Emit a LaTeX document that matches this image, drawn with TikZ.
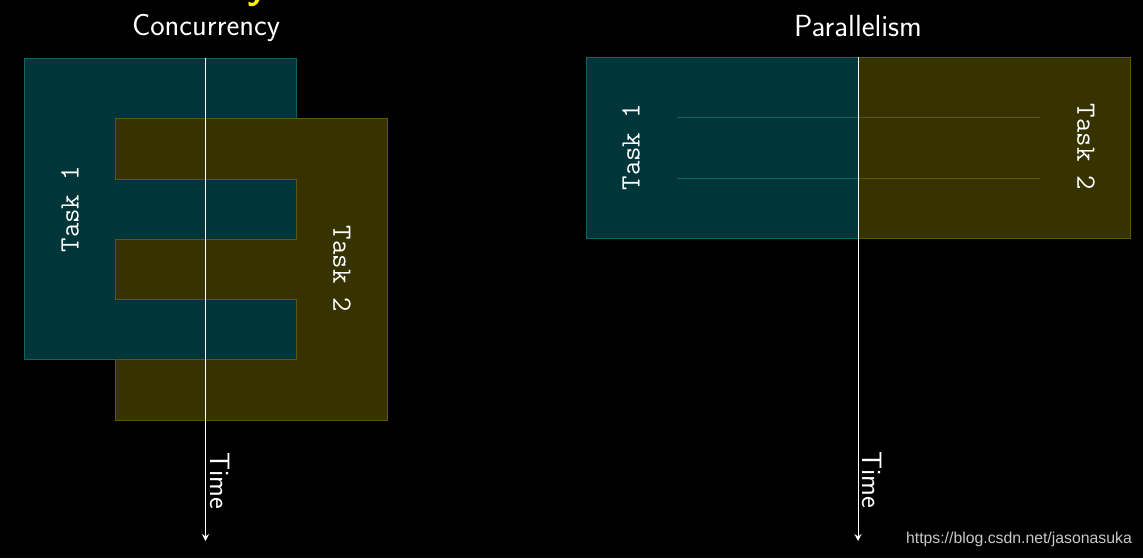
\documentclass[tikz,border=0pt]{standalone}
\usepackage{fontspec}
\newfontfamily\wmfont{Liberation Sans}
\usetikzlibrary{arrows.meta}
\definecolor{tealfill}{RGB}{0,53,57}
\definecolor{tealedge}{RGB}{12,100,100}
\definecolor{olivefill}{RGB}{54,51,0}
\definecolor{oliveedge}{RGB}{92,89,0}
\definecolor{wmgray}{RGB}{200,200,200}
\begin{document}
\begin{tikzpicture}[x=1pt,y=-1pt,
  tealshape/.style={fill=tealfill,draw=tealedge,line width=1pt},
  oliveshape/.style={fill=olivefill,draw=oliveedge,line width=1pt},
  tealline/.style={draw=tealedge,line width=1pt},
  oliveline/.style={draw=oliveedge,line width=1pt},
  timearrow/.style={draw=white,line width=1pt,-{Stealth[length=7pt,width=7pt,inset=2.5pt]}},
  title/.style={text=white,font=\sffamily\fontsize{30.5}{32}\selectfont,inner sep=0pt,anchor=base},
  tasklabel/.style={text=white,font=\ttfamily\fontsize{28}{30}\selectfont,inner sep=0pt},
  timelabel/.style={text=white,font=\sffamily\fontsize{28}{30}\selectfont,inner sep=0pt,rotate=-90},
  wm/.style={text=wmgray,font=\wmfont\fontsize{15.8}{18}\selectfont,inner sep=0pt}
]
\fill[black] (0,0) rectangle (1143,558);
\useasboundingbox (0,0) rectangle (1143,558);

% cut-off yellow heading
\node[text=yellow,font=\sffamily\bfseries\fontsize{40}{42}\selectfont,inner sep=0pt,anchor=base west] (hdr) at (247,-2) {y};

% titles
\node[title] (tconc) at (206,35) {Concurrency};
\node[title] (tpar) at (858,36) {Parallelism};

% concurrency shapes
\draw[tealshape] (24,58) -- (296,58) -- (296,118) -- (115,118) -- (115,179) -- (296,179) -- (296,239) -- (115,239) -- (115,299) -- (296,299) -- (296,359) -- (24,359) -- cycle;
\draw[oliveshape] (115,118) -- (387,118) -- (387,420) -- (115,420) -- (115,359) -- (296,359) -- (296,299) -- (115,299) -- (115,239) -- (296,239) -- (296,179) -- (115,179) -- cycle;
\node[tasklabel,rotate=90] (c1) at (70,209) {Task 1};
\node[tasklabel,rotate=-90] (c2) at (342,269) {Task 2};

% parallelism shapes
\draw[tealshape] (586,57) rectangle (858,238);
\draw[oliveshape] (858,57) rectangle (1130,238);
\coordinate (pa1) at (677,117);
\coordinate (pm1) at (858,117);
\coordinate (pb1) at (1040,117);
\coordinate (pa2) at (677,178);
\coordinate (pm2) at (858,178);
\coordinate (pb2) at (1040,178);
\draw[tealline] (pa1) -- (pm1);
\draw[oliveline] (pm1) -- (pb1);
\draw[tealline] (pa2) -- (pm2);
\draw[oliveline] (pm2) -- (pb2);
\node[tasklabel,rotate=90] (p1) at (631,147) {Task 1};
\node[tasklabel,rotate=-90] (p2) at (1086,147) {Task 2};

% time arrows
\coordinate (ts1) at (205.5,58);
\coordinate (te1) at (205.5,541);
\draw[timearrow] (ts1) -- (te1);
\node[timelabel] (time1) at (220,481) {Time};
\coordinate (ts2) at (858,57);
\coordinate (te2) at (858,541);
\draw[timearrow] (ts2) -- (te2);
\node[timelabel] (time2) at (872,480) {Time};

% watermark
\node[wm,anchor=east] (wmk) at (1132,539) {https://blog.csdn.net/jasonasuka};
\end{tikzpicture}
\end{document}
